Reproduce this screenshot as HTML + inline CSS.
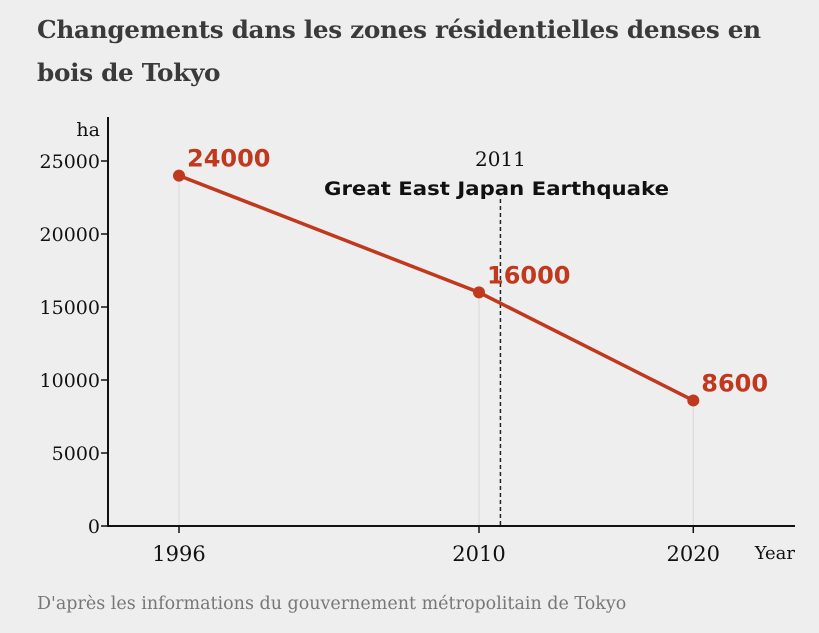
<!DOCTYPE html>
<html><head><meta charset="utf-8"><style>
body{margin:0;background:#eeeeee;width:819px;height:633px;overflow:hidden;font-family:"DejaVu Serif",serif;}
#title{position:absolute;left:37px;top:8px;font-size:24.7px;line-height:43px;font-weight:bold;color:#3a3a3a;width:790px;white-space:nowrap;font-family:"DejaVu Serif",serif;letter-spacing:-0.3px;}
#source{position:absolute;left:37px;top:594px;font-size:17.5px;color:#777;}
svg{position:absolute;left:0;top:0;}
</style></head><body>
<div id="title">Changements dans les zones résidentielles denses en<br>bois de Tokyo</div>
<svg id="chart" width="819" height="633"></svg>
<div id="source">D'après les informations du gouvernement métropolitain de Tokyo</div>
<script>
const years=[1996,2010,2020];
const values=[24000,16000,8600];
const yTicks=[0,5000,10000,15000,20000,25000];
const eventYear=2011;
const NS="http://www.w3.org/2000/svg";
const svg=document.getElementById('chart');
function x(v){return 179+(v-1996)*(300/14);}
function y(v){return 526-v*(365/25000);}
function el(t,a,p){const e=document.createElementNS(NS,t);for(const k in a)e.setAttribute(k,a[k]);(p||svg).appendChild(e);return e;}
years.forEach((yr,i)=>{
const g=el('line',{x1:x(yr),x2:x(yr),y1:y(values[i]),y2:526,stroke:'#d8d8d8','stroke-width':1});


});
const ev=el('line',{x1:x(eventYear),x2:x(eventYear),y1:199,y2:526,stroke:'#222','stroke-width':1.5,'stroke-dasharray':'4,3'});


const t1=el('text',{x:x(eventYear),y:166,'text-anchor':'middle','font-size':20,fill:'#111'});t1.textContent=String(eventYear);


const t2=el('text',{x:324,y:195,'font-size':19,'font-weight':'bold',fill:'#111',textLength:345,lengthAdjust:'spacingAndGlyphs','font-family':'DejaVu Sans, sans-serif'});t2.textContent='Great East Japan Earthquake';


const ya=el('line',{x1:108,x2:108,y1:117,y2:527,stroke:'#111','stroke-width':2});


const xa=el('line',{x1:107,x2:795,y1:526,y2:526,stroke:'#111','stroke-width':2});


yTicks.forEach(v=>{
const tk=el('line',{x1:101,x2:108,y1:y(v),y2:y(v),stroke:'#111','stroke-width':1.5});


const tl=el('text',{x:100,y:y(v)+7,'text-anchor':'end','font-size':19,fill:'#111'});tl.textContent=String(v);


});
const u=el('text',{x:100,y:136,'text-anchor':'end','font-size':19,fill:'#111'});u.textContent='ha';


years.forEach(yr=>{
const tk=el('line',{x1:x(yr),x2:x(yr),y1:526,y2:533,stroke:'#111','stroke-width':1.5});


const tl=el('text',{x:x(yr),y:561,'text-anchor':'middle','font-size':21,fill:'#111'});tl.textContent=String(yr);


});
const xu=el('text',{x:795,y:559,'text-anchor':'end','font-size':18,fill:'#111'});xu.textContent='Year';


const ln=el('polyline',{points:years.map((yr,i)=>x(yr)+','+y(values[i])).join(' '),fill:'none',stroke:'#c0391e','stroke-width':3.5});


years.forEach((yr,i)=>{
const c=el('circle',{cx:x(yr),cy:y(values[i]),r:6,fill:'#c0391e'});


const l=el('text',{x:x(yr)+8,y:y(values[i])-9,'font-size':24,'font-weight':'bold',fill:'#c0391e','font-family':'DejaVu Sans, sans-serif'});l.textContent=String(values[i]);


});
</script>
</body></html>
